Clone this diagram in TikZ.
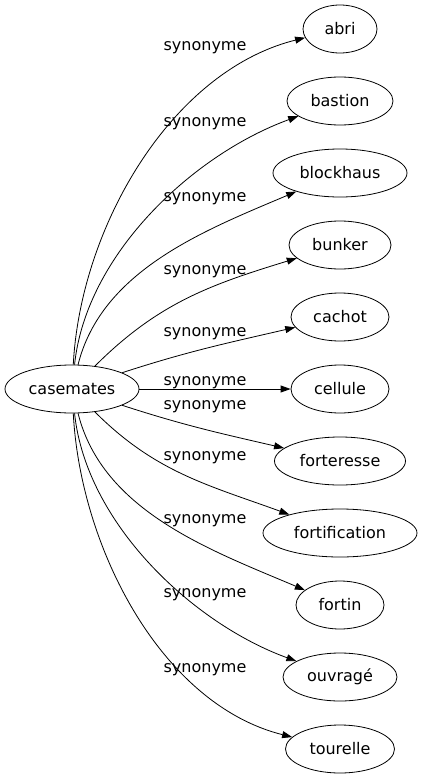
\documentclass[tikz,border=0pt]{standalone}
\usepackage{fontspec}
\setmainfont{DejaVu Sans}
\usetikzlibrary{arrows.meta,shapes.geometric}
\tikzset{
  word/.style={draw, ellipse, line width=0.8pt, minimum height=48pt, inner sep=0pt, font=\fontsize{16}{19}\selectfont},
  syn/.style={draw, line width=0.8pt, -{Triangle[length=10pt,width=7pt]}},
  lab/.style={font=\fontsize{16}{19}\selectfont, inner sep=0pt, anchor=base},
}
\begin{document}
\begin{tikzpicture}[x=1pt,y=1pt]
  \useasboundingbox (0,0) rectangle (422,-779);

  \node[word, minimum width=134pt] (cas) at (72,-389) {casemates};

  \node[word, minimum width=74pt]  (abri)   at (340,-29)  {abri};
  \node[word, minimum width=106pt] (bast)   at (340,-101) {bastion};
  \node[word, minimum width=134pt] (block)  at (340,-173) {blockhaus};
  \node[word, minimum width=102pt] (bunk)   at (340,-245) {bunker};
  \node[word, minimum width=98pt]  (cach)   at (340,-317) {cachot};
  \node[word, minimum width=98pt]  (cell)   at (340,-389) {cellule};
  \node[word, minimum width=131pt] (fort)   at (340,-461) {forteresse};
  \node[word, minimum width=154pt] (fortif) at (340,-533) {fortification};
  \node[word, minimum width=88pt]  (fortin) at (340,-605) {fortin};
  \node[word, minimum width=114pt] (ouvr)   at (340,-677) {ouvragé};
  \node[word, minimum width=109pt] (tour)   at (340,-749) {tourelle};

  % edges
  \draw[syn] (cas) to[out=87,in=194,looseness=0.88]  (abri);
  \draw[syn] (cas) to[out=84,in=200,looseness=0.85]  (bast);
  \draw[syn] (cas) to[out=76,in=203,looseness=0.9]  (block);
  \draw[syn] (cas) to[out=45,in=197]  (bunk);
  \draw[syn] (cas) to[out=18,in=193]  (cach);
  \draw[syn] (cas) -- (cell);
  \draw[syn] (cas) to[out=-18,in=167] (fort);
  \draw[syn] (cas) to[out=-45,in=160] (fortif);
  \draw[syn] (cas) to[out=-76,in=157,looseness=0.9] (fortin);
  \draw[syn] (cas) to[out=-84,in=160,looseness=0.85] (ouvr);
  \draw[syn] (cas) to[out=-87,in=166,looseness=0.88] (tour);

  % labels
  \node[lab] (l1)  at (205,-50.5) {synonyme};
  \node[lab] (l2)  at (205,-126.5) {synonyme};
  \node[lab] (l3)  at (205,-201) {synonyme};
  \node[lab] (l4)  at (205,-274) {synonyme};
  \node[lab] (l5)  at (205,-336.5) {synonyme};
  \node[lab] (l6)  at (205,-385) {synonyme};
  \node[lab] (l7)  at (205,-409) {synonyme};
  \node[lab] (l8)  at (205,-460) {synonyme};
  \node[lab] (l9)  at (205,-523) {synonyme};
  \node[lab] (l10) at (205,-597) {synonyme};
  \node[lab] (l11) at (205,-672) {synonyme};
\end{tikzpicture}
\end{document}
